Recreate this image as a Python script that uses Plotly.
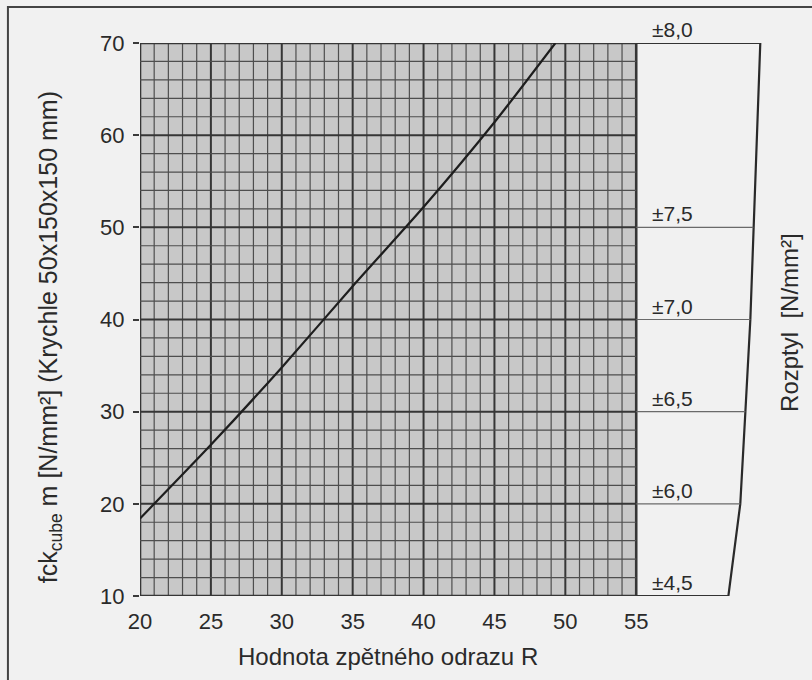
import plotly.graph_objects as go

# ---- data ----
R_vals = [20, 25, 30, 35, 40, 45, 49.3]
fck_vals = [18.4, 26.4, 34.8, 43.6, 52.2, 61.4, 70.0]

x_ticks = [20, 25, 30, 35, 40, 45, 50, 55]
y_ticks = [10, 20, 30, 40, 50, 60, 70]

rozptyl_levels = [70, 50, 40, 30, 20, 10]
rozptyl_labels = ["±8,0", "±7,5", "±7,0", "±6,5", "±6,0", "±4,5"]
rozptyl_edge = [63.75, 63.26, 63.05, 62.7, 62.34, 61.5]

x_min, x_max = 20, 55
y_min, y_max = 10, 70
x_grid = list(range(x_min, x_max + 1, 1))
y_grid = list(range(y_min, y_max + 1, 2))

FONT = "Liberation Sans, Arial, sans-serif"
INK = "#2a2a2a"

shapes = []
# gray graph-paper background
shapes.append(dict(type="rect", xref="x", yref="y", x0=x_min, x1=x_max, y0=y_min, y1=y_max,
                   fillcolor="#c8c8c8", line=dict(width=0), layer="below"))
for gx in x_grid:
    major = gx % 5 == 0
    edge = gx in (x_min, x_max)
    shapes.append(dict(type="line", xref="x", yref="y", x0=gx, x1=gx, y0=y_min, y1=y_max,
                       line=dict(color="#363636" if major else "#4e4e4e",
                                 width=2.6 if edge else (2.0 if major else 1.2)),
                       layer="below"))
for gy in y_grid:
    major = gy % 10 == 0
    edge = gy in (y_min, y_max)
    shapes.append(dict(type="line", xref="x", yref="y", x0=x_min, x1=x_max, y0=gy, y1=gy,
                       line=dict(color="#363636" if major else "#4e4e4e",
                                 width=2.6 if edge else (2.0 if major else 1.2)),
                       layer="below"))
# Rozptyl scale lines
for lvl, ex in zip(rozptyl_levels, rozptyl_edge):
    edge = lvl in (y_min, y_max)
    shapes.append(dict(type="line", xref="x", yref="y", x0=x_max, x1=ex, y0=lvl, y1=lvl,
                       line=dict(color="#333333" if edge else "#6a6a6a",
                                 width=2.2 if edge else 1.2)))
# outer frame of the scanned figure
shapes.append(dict(type="rect", xref="paper", yref="paper", x0=-0.207, x1=1.08, y0=-0.2, y1=1.065,
                   line=dict(color="#444444", width=2), fillcolor="rgba(0,0,0,0)"))

fig = go.Figure()
fig.add_trace(go.Scatter(x=R_vals, y=fck_vals, mode="lines",
                         line=dict(color="#1e1e1e", width=2.2, shape="spline", smoothing=0.6),
                         showlegend=False, hoverinfo="x+y"))
fig.add_trace(go.Scatter(x=rozptyl_edge, y=rozptyl_levels, mode="lines",
                         line=dict(color="#2a2a2a", width=2.2),
                         showlegend=False, hoverinfo="skip"))

annotations = []
for lvl, lab in zip(rozptyl_levels, rozptyl_labels):
    annotations.append(dict(x=57.55, y=lvl, xref="x", yref="y", text=lab, showarrow=False,
                            xanchor="center", yanchor="bottom", yshift=0,
                            font=dict(family=FONT, size=21, color=INK)))
annotations.append(dict(x=37.5, y=-0.110, xref="x", yref="paper",
                        text="Hodnota zpětného odrazu R", showarrow=False,
                        xanchor="center", yanchor="middle",
                        font=dict(family=FONT, size=24, color=INK)))
annotations.append(dict(x=-0.141, y=0.468, xref="paper", yref="paper",
                        text="fck<sub>cube</sub> m [N/mm²] (Krychle 50x150x150 mm)",
                        textangle=-90, showarrow=False, xanchor="center", yanchor="middle",
                        font=dict(family=FONT, size=25, color=INK)))
annotations.append(dict(x=1.019, y=0.494, xref="paper", yref="paper",
                        text="Rozptyl  [N/mm²]", textangle=-90, showarrow=False,
                        xanchor="center", yanchor="middle",
                        font=dict(family=FONT, size=24, color=INK)))

fig.update_layout(
    width=812, height=680,
    margin=dict(l=140, r=34, t=43, b=84),
    paper_bgcolor="#f1f1f1", plot_bgcolor="rgba(0,0,0,0)",
    shapes=shapes, annotations=annotations,
    font=dict(family=FONT, color=INK),
    xaxis=dict(range=[20, 65], tickvals=x_ticks, ticktext=[str(v) for v in x_ticks],
               showgrid=False, zeroline=False, showline=False, ticks="",
               ticklabelstandoff=10, tickfont=dict(family=FONT, size=22, color=INK)),
    yaxis=dict(range=[10, 70], tickvals=y_ticks, ticktext=[str(v) for v in y_ticks],
               showgrid=False, zeroline=False, showline=False, ticks="outside",
               ticklen=6, tickwidth=2, tickcolor="#3a3a3a", ticklabelstandoff=4,
               tickfont=dict(family=FONT, size=22, color=INK)),
)

fig.write_html("out.html", config={"displayModeBar": False},
               post_script="document.body.style.margin='0';document.body.style.background='#f1f1f1';")
